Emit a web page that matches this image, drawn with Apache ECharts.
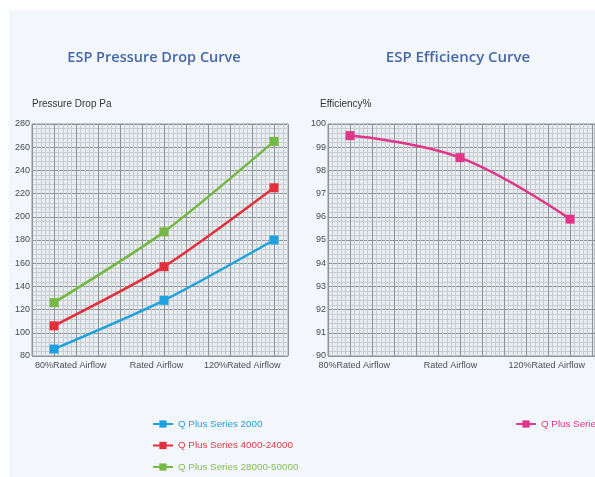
<!DOCTYPE html>
<html>
<head>
<meta charset="utf-8">
<script src="https://cdn.jsdelivr.net/npm/echarts@6/dist/echarts.min.js"></script>
<style>
  html, body { margin: 0; padding: 0; background: #ffffff; }
  #chart { width: 595px; height: 477px; }
</style>
</head>
<body>
<div id="chart"></div>
<script>
// Airflow operating points shared by both curves
const categories = ['80%Rated Airflow', 'Rated Airflow', '120%Rated Airflow'];

// Pressure drop (Pa) per model range
const series2000 = [86, 128, 180];
const series4000to24000 = [106, 157, 225];
const series28000to50000 = [126, 187, 265];

// Collection efficiency (%)
const efficiency = [99.5, 98.55, 95.9];

// Axis ranges
const pressureRange = { min: 80, max: 280, step: 20 };
const efficiencyRange = { min: 90, max: 100, step: 1 };

const seriesNames = ['Q Plus Series 2000', 'Q Plus Series 4000-24000', 'Q Plus Series 28000-50000'];
const efficiencyName = 'Q Plus Series';
const axisNames = ['Pressure Drop Pa', 'Efficiency%'];
const chartTitles = ['ESP Pressure Drop Curve', 'ESP Efficiency Curve'];

const colors = { blue: '#1ea2de', red: '#e2303d', green: '#75b843', pink: '#e03589' };
const legendText = { blue: '#2a9fd6', red: '#dc3a48', green: '#86bd55', pink: '#e03589' };

const FONT = '"Liberation Sans", Arial, sans-serif';
const majorLine = { color: '#8c949a', width: 1 };
const minorLine = { color: '#c6cdd2', width: 1 };

const toPoints = arr => arr.map((v, i) => [i, v]);

function dataXAxis(gridIndex, max) {
  return {
    type: 'value', gridIndex: gridIndex, min: -0.2, max: max, interval: 0.2,
    axisLine: { show: false }, axisTick: { show: false }, axisLabel: { show: false },
    splitLine: { show: true, lineStyle: majorLine },
    minorTick: { show: true, splitNumber: 5, length: 0, lineStyle: { opacity: 0 } },
    minorSplitLine: { show: true, lineStyle: minorLine }
  };
}
function labelXAxis(gridIndex) {
  return {
    type: 'category', gridIndex: gridIndex, data: categories, boundaryGap: true,
    axisLine: { show: false }, axisTick: { show: false }, splitLine: { show: false },
    axisLabel: { interval: 0, fontFamily: FONT, fontSize: 9, color: '#4a4f55', margin: 5 }
  };
}
function valueYAxis(gridIndex, range) {
  return {
    type: 'value', gridIndex: gridIndex, min: range.min, max: range.max, interval: range.step,
    axisLine: { show: false },
    axisTick: { show: true, length: 3, lineStyle: { color: '#8c949a' } },
    axisLabel: { fontFamily: FONT, fontSize: 9, color: '#444a50', margin: 2 },
    splitLine: { show: true, lineStyle: majorLine },
    minorTick: { show: true, splitNumber: 5, length: 0, lineStyle: { opacity: 0 } },
    minorSplitLine: { show: true, lineStyle: minorLine }
  };
}
function lineSeries(name, values, color, xi, yi) {
  return {
    name: name, type: 'line', xAxisIndex: xi, yAxisIndex: yi,
    data: toPoints(values), smooth: 0.25,
    symbol: 'rect', symbolSize: 9,
    lineStyle: { color: color, width: 2.5 },
    itemStyle: { color: color },
    z: 5
  };
}
function axisNameText(text, x) {
  return {
    type: 'text', x: x, y: 104, silent: true,
    style: { text: text, fontFamily: FONT, fontSize: 10, fill: '#333333', textAlign: 'left', textVerticalAlign: 'middle' }
  };
}

const chart = echarts.init(document.getElementById('chart'), null, { renderer: 'canvas' });

chart.setOption({
  backgroundColor: '#ffffff',
  animation: false,
  graphic: [
    { type: 'rect', z: -10, silent: true, shape: { x: 9, y: 10, width: 600, height: 480 }, style: { fill: '#f3f6fa' } },
    axisNameText(axisNames[0], 32),
    axisNameText(axisNames[1], 320)
  ],
  title: [
    { text: chartTitles[0], left: 149, top: 45, textAlign: 'center',
      textStyle: { fontFamily: '"Open Sans", sans-serif', fontSize: 14.5, fontWeight: 600, color: '#4668a8' } },
    { text: chartTitles[1], left: 453, top: 45, textAlign: 'center',
      textStyle: { fontFamily: '"Open Sans", sans-serif', fontSize: 15, fontWeight: 600, color: '#4668a8' } }
  ],
  grid: [
    { left: 32, top: 124, width: 256, height: 232, show: true, backgroundColor: '#e9edf0', borderColor: '#8c949a', borderWidth: 1 },
    { left: 28, top: 124, width: 257, height: 232, show: false },
    { left: 328, top: 124, right: -6, height: 232, show: true, backgroundColor: '#e9edf0', borderColor: '#8c949a', borderWidth: 1 },
    { left: 306, top: 124, width: 304, height: 232, show: false }
  ],
  xAxis: [
    dataXAxis(0, 256 / 110 - 0.2),
    labelXAxis(1),
    dataXAxis(2, 273 / 112.5 - 0.2),
    labelXAxis(3)
  ],
  yAxis: [
    valueYAxis(0, pressureRange),
    Object.assign(valueYAxis(1, pressureRange), { show: false }),
    valueYAxis(2, efficiencyRange),
    Object.assign(valueYAxis(3, efficiencyRange), { show: false })
  ],
  legend: [
    {
      orient: 'vertical', left: 152, top: 419, padding: 0, itemWidth: 20, itemHeight: 9, itemGap: 11.5,
      textStyle: { fontFamily: FONT, fontSize: 9.8 },
      data: [
        { name: seriesNames[0], textStyle: { color: legendText.blue } },
        { name: seriesNames[1], textStyle: { color: legendText.red } },
        { name: seriesNames[2], textStyle: { color: legendText.green } }
      ]
    },
    {
      orient: 'vertical', left: 515, top: 419, padding: 0, itemWidth: 20, itemHeight: 9,
      textStyle: { fontFamily: FONT, fontSize: 9.8 },
      data: [{ name: efficiencyName, textStyle: { color: legendText.pink } }]
    }
  ],
  series: [
    lineSeries(seriesNames[0], series2000, colors.blue, 0, 0),
    lineSeries(seriesNames[1], series4000to24000, colors.red, 0, 0),
    lineSeries(seriesNames[2], series28000to50000, colors.green, 0, 0),
    Object.assign(lineSeries(efficiencyName, efficiency, colors.pink, 2, 2), { smooth: 0.4 })
  ]
});
</script>
</body>
</html>
